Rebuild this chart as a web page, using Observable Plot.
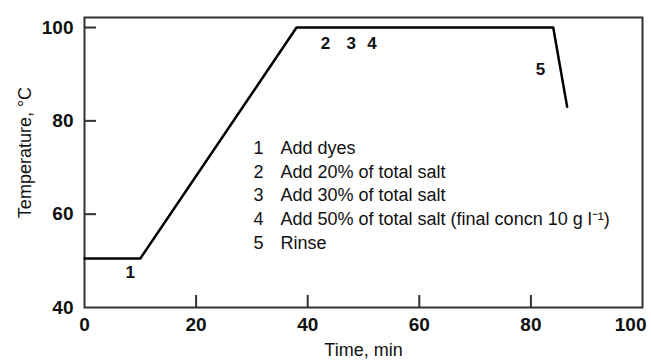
<!DOCTYPE html>
<html>
<head>
<meta charset="utf-8">
<script src="https://cdn.jsdelivr.net/npm/d3@7"></script>
<script src="https://cdn.jsdelivr.net/npm/@observablehq/plot@0.6"></script>
<style>
  html, body { margin: 0; padding: 0; background: #fff; }
  #chart svg { display: block; }
  .ticklab text, text.ticklab { font-weight: bold; }
</style>
</head>
<body>
<div id="chart"></div>
<script>
// Temperature profile
const times = [0, 10, 38, 84, 86.5];
const temps = [50.5, 50.5, 100, 100, 83];

// Step markers on the curve
const markerText = ["1", "2", "3", "4", "5"];
const markerX = [8.2, 43.2, 47.8, 51.5, 81.7];
const markerY = [47.5, 96.6, 96.6, 96.6, 90.9];

// Legend
const legendNumbers = ["1", "2", "3", "4", "5"];
const legendTexts = [
  "Add dyes",
  "Add 20% of total salt",
  "Add 30% of total salt",
  "Add 50% of total salt (final concn 10 g l\u207B\u00B9)",
  "Rinse"
];

// Axis ticks
const xTickLabels = [0, 20, 40, 60, 80];
const xLastLabel = [100];
const xTickMarks = [20, 40, 60, 80];
const yTickLabels = [40, 60, 80, 100];
const yTickMarks = [60, 80, 100];

const curve = times.map((t, i) => ({t, temp: temps[i]}));
const markers = markerText.map((s, i) => ({s, x: markerX[i], y: markerY[i]}));

const font = "'Liberation Sans', Arial, Helvetica, sans-serif";
const ink = "#111";

const W = 651, H = 360, mL = 84, mR = 9, mT = 17, mB = 53;
const tickLen = 12;

const chart = Plot.plot({
  width: W,
  height: H,
  marginLeft: mL,
  marginRight: mR,
  marginTop: mT,
  marginBottom: mB,
  style: {fontFamily: font, fontSize: "18px", color: ink, background: "#fff"},
  x: {domain: [0, 100], label: null},
  y: {domain: [40, 102.15], label: null},
  marks: [
    Plot.frame({stroke: "#333", strokeWidth: 2}),
    Plot.axisX(xTickLabels, {tickSize: 0, tickPadding: 10, fontSize: 19, className: "ticklab", label: null}),
    Plot.text(xLastLabel, {x: d => d, y: 40, text: d => String(d), textAnchor: "end", lineAnchor: "top",
      dx: 4, dy: 10, fontSize: 19, fontWeight: "bold", fill: ink}),
    Plot.axisY(yTickLabels, {tickSize: 0, tickPadding: 11, fontSize: 19, className: "ticklab", label: null}),
    Plot.tickX(xTickMarks, {x: d => d, insetTop: (H - mT - mB) - tickLen, stroke: "#333", strokeWidth: 2}),
    Plot.tickY(yTickMarks, {y: d => d, insetRight: (W - mL - mR) - tickLen, stroke: "#333", strokeWidth: 2}),
    Plot.line(curve, {x: "t", y: "temp", stroke: "#000", strokeWidth: 2.5}),
    Plot.text(markers, {x: "x", y: "y", text: "s", fontSize: 17, fontWeight: "bold", fill: ink}),
    Plot.text([legendNumbers.join("\n")], {
      frameAnchor: "top-left", dx: 174, dy: 120, textAnchor: "middle", lineAnchor: "top",
      lineHeight: 1.31, fontSize: 18, fill: ink
    }),
    Plot.text([legendTexts.join("\n")], {
      frameAnchor: "top-left", dx: 196, dy: 120, textAnchor: "start", lineAnchor: "top",
      lineHeight: 1.31, fontSize: 18, fill: ink
    }),
    Plot.text(["Time, min"], {frameAnchor: "bottom", textAnchor: "middle", lineAnchor: "middle", dy: 43, fontSize: 18, fill: ink}),
    Plot.text(["Temperature, \u00B0C"], {frameAnchor: "left", textAnchor: "middle", lineAnchor: "middle",
      dx: -59, dy: -10, rotate: -90, fontSize: 18, fill: ink})
  ]
});

document.getElementById("chart").appendChild(chart);
</script>
</body>
</html>
